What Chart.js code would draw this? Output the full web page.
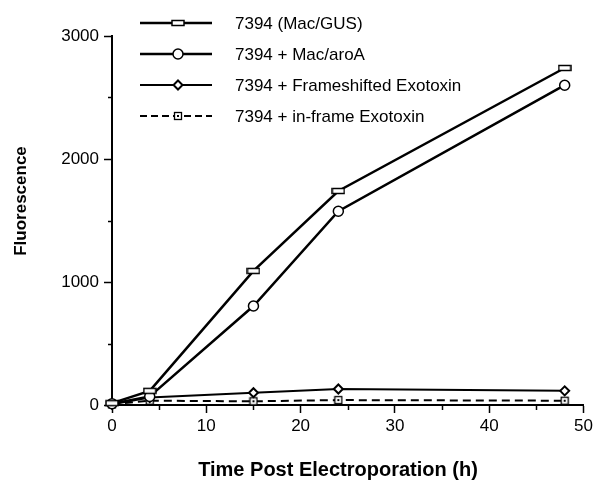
<!DOCTYPE html>
<html>
<head>
<meta charset="utf-8">
<script src="https://cdn.jsdelivr.net/npm/chart.js@4/dist/chart.umd.min.js"></script>
<style>
  body { margin: 0; background: #fff; }
  #fluo { display: block; }
</style>
</head>
<body>
<canvas id="fluo" width="596" height="482"></canvas>
<script>
const hours = [0, 4, 15, 24, 48];
const macGus = [15, 115, 1090, 1740, 2740];
const macAroA = [10, 70, 805, 1575, 2600];
const frameshifted = [5, 60, 100, 130, 115];
const inFrame = [5, 35, 30, 40, 35];
const seriesNames = ['7394 (Mac/GUS)', '7394 + Mac/aroA', '7394 + Frameshifted Exotoxin', '7394 + in-frame Exotoxin'];
const yTicks = [0, 1000, 2000, 3000];
const xTicks = [0, 10, 20, 30, 40, 50];

const FONT = "'Liberation Sans', Arial, Helvetica, sans-serif";

// flat rectangle marker for Mac/GUS
const flatBox = document.createElement('canvas');
flatBox.width = 14; flatBox.height = 8;
(function () {
  const c = flatBox.getContext('2d');
  c.fillStyle = '#fff';
  c.strokeStyle = '#000';
  c.lineWidth = 1.5;
  c.fillRect(1, 1.5, 12, 5);
  c.strokeRect(1, 1.5, 12, 5);
})();

// small square with a dot for in-frame
const dotBox = document.createElement('canvas');
dotBox.width = 10; dotBox.height = 10;
(function () {
  const c = dotBox.getContext('2d');
  c.fillStyle = '#fff';
  c.strokeStyle = '#000';
  c.lineWidth = 1.3;
  c.fillRect(1, 1, 8, 8);
  c.strokeRect(1.5, 1.5, 7, 7);
  c.fillStyle = '#000';
  c.fillRect(4, 4, 2, 2);
})();

function pts(vals) {
  return hours.map((h, i) => ({ x: h, y: vals[i] }));
}

function drawMarker(ctx, kind, x, y) {
  ctx.save();
  ctx.fillStyle = '#fff';
  ctx.strokeStyle = '#000';
  if (kind === 'flat') {
    ctx.drawImage(flatBox, x - 7, y - 4);
  } else if (kind === 'dot') {
    ctx.drawImage(dotBox, x - 5, y - 5);
  } else if (kind === 'circle') {
    ctx.lineWidth = 1.5;
    ctx.beginPath();
    ctx.arc(x, y, 5, 0, Math.PI * 2);
    ctx.fill();
    ctx.stroke();
  } else if (kind === 'diamond') {
    ctx.lineWidth = 2;
    ctx.beginPath();
    ctx.moveTo(x, y - 4.5);
    ctx.lineTo(x + 4.5, y);
    ctx.lineTo(x, y + 4.5);
    ctx.lineTo(x - 4.5, y);
    ctx.closePath();
    ctx.fill();
    ctx.stroke();
  }
  ctx.restore();
}

const legendMarkers = ['flat', 'circle', 'diamond', 'dot'];
const legendWidths = [2.5, 2.5, 2, 2];

const extras = {
  id: 'extras',
  afterDraw(chart) {
    const ctx = chart.ctx;
    const xs = chart.scales.x, ys = chart.scales.y;
    ctx.save();
    ctx.strokeStyle = '#000';
    ctx.lineWidth = 1.5;
    // minor ticks
    [500, 1500, 2500].forEach(v => {
      const py = Math.round(ys.getPixelForValue(v)) + 0.5;
      ctx.beginPath();
      ctx.moveTo(xs.left - 4, py);
      ctx.lineTo(xs.left, py);
      ctx.stroke();
    });
    [5, 15, 25, 35, 45].forEach(v => {
      const px = Math.round(xs.getPixelForValue(v)) + 0.5;
      ctx.beginPath();
      ctx.moveTo(px, ys.bottom);
      ctx.lineTo(px, ys.bottom + 5);
      ctx.stroke();
    });

    // legend
    ctx.font = '17px ' + FONT;
    ctx.textBaseline = 'middle';
    ctx.textAlign = 'left';
    ctx.fillStyle = '#000';
    seriesNames.forEach((name, i) => {
      const y = 23 + i * 31;
      ctx.save();
      ctx.lineWidth = legendWidths[i];
      if (i === 3) ctx.setLineDash([7, 4]);
      ctx.beginPath();
      ctx.moveTo(140, y);
      ctx.lineTo(212, y);
      ctx.stroke();
      ctx.restore();
      drawMarker(ctx, legendMarkers[i], 178, y);
      ctx.fillText(name, 235, y + 1);
    });

    // axis titles
    ctx.font = 'bold 20px ' + FONT;
    ctx.textAlign = 'center';
    ctx.fillText('Time Post Electroporation (h)', 338, 470);
    ctx.save();
    ctx.translate(21, 201);
    ctx.rotate(-Math.PI / 2);
    ctx.font = 'bold 17px ' + FONT;
    ctx.fillText('Fluorescence', 0, 0);
    ctx.restore();
    ctx.restore();
  }
};

const chart = new Chart(document.getElementById('fluo').getContext('2d'), {
  type: 'line',
  data: {
    datasets: [{
      label: seriesNames[0],
      data: pts(macGus),
      borderColor: '#000',
      borderWidth: 2.5,
      pointStyle: flatBox,
      pointRadius: 5
    },
    {
      label: seriesNames[1],
      data: pts(macAroA),
      borderColor: '#000',
      backgroundColor: '#fff',
      borderWidth: 2.5,
      pointStyle: 'circle',
      pointRadius: 5,
      pointBorderWidth: 1.5
    },
    {
      label: seriesNames[2],
      data: pts(frameshifted),
      borderColor: '#000',
      backgroundColor: '#fff',
      borderWidth: 2,
      pointStyle: 'rectRot',
      pointRadius: 4.5,
      pointBorderWidth: 2
    },
    {
      label: seriesNames[3],
      data: pts(inFrame),
      borderColor: '#000',
      borderWidth: 2,
      borderDash: [8, 5],
      pointStyle: dotBox,
      pointRadius: 5
    }]
  },
  options: {
    responsive: false,
    animation: false,
    clip: false,
    layout: { padding: { top: 36, right: 9, left: 0, bottom: 0 } },
    plugins: {
      legend: { display: false },
      tooltip: { enabled: false }
    },
    scales: {
      x: {
        type: 'linear',
        min: 0,
        max: 50,
        border: { color: '#000', width: 2 },
        grid: { drawOnChartArea: false, tickLength: 8, tickColor: '#000', tickWidth: 1.5 },
        ticks: {
          stepSize: 10,
          color: '#000',
          padding: 3,
          font: { family: FONT, size: 17 },
          callback: v => xTicks.includes(v) ? v : ''
        },
        afterFit: s => { s.height = 77; }
      },
      y: {
        min: 0,
        max: 3000,
        border: { color: '#000', width: 2 },
        grid: { drawOnChartArea: false, tickLength: 8, tickColor: '#000', tickWidth: 1.5 },
        ticks: {
          stepSize: 1000,
          color: '#000',
          padding: 5,
          font: { family: FONT, size: 17 },
          callback: v => yTicks.includes(v) ? v : ''
        },
        afterFit: s => { s.width = 112; }
      }
    }
  },
  plugins: [extras]
});
</script>
</body>
</html>
